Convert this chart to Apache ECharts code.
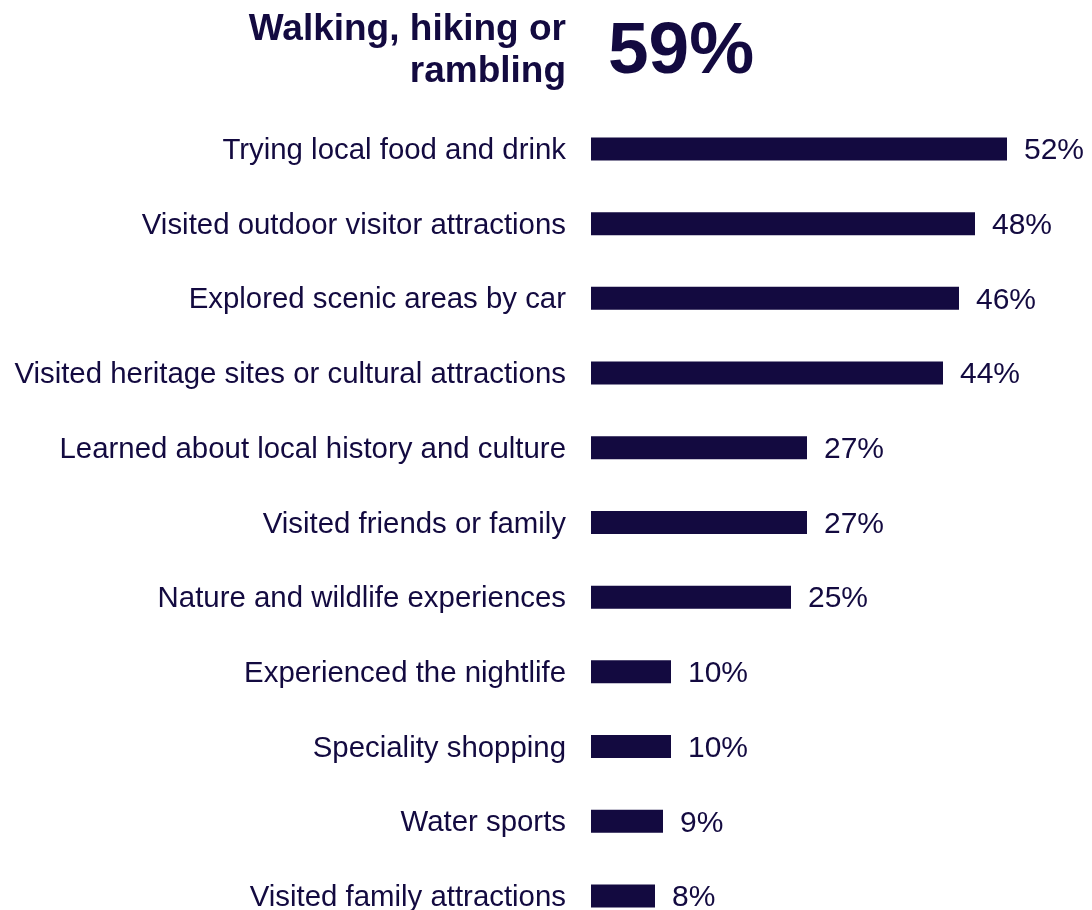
<!DOCTYPE html>
<html>
<head>
<meta charset="utf-8">
<style>
  html, body { margin: 0; padding: 0; background: #ffffff; }
  #chart { width: 1092px; height: 910px; }
</style>
<script src="https://cdn.jsdelivr.net/npm/echarts@6/dist/echarts.min.js"></script>
</head>
<body>
<div id="chart"></div>
<script>
// Headline activity, shown as a large statement above the bars
const headlineLines = ['Walking, hiking or', 'rambling'];
const headlineValue = 59;

// Remaining activities, top to bottom
const categories = [
  'Trying local food and drink',
  'Visited outdoor visitor attractions',
  'Explored scenic areas by car',
  'Visited heritage sites or cultural attractions',
  'Learned about local history and culture',
  'Visited friends or family',
  'Nature and wildlife experiences',
  'Experienced the nightlife',
  'Speciality shopping',
  'Water sports',
  'Visited family attractions'
];
const values = [52, 48, 46, 44, 27, 27, 25, 10, 10, 9, 8];

const INK = '#130a40';
const FONT = '"Liberation Sans", Arial, Helvetica, sans-serif';

const chart = echarts.init(document.getElementById('chart'), null, { renderer: 'canvas' });

chart.setOption({
  backgroundColor: '#ffffff',
  animation: false,
  grid: {
    left: 591, top: 111.6, width: 480, height: 821.7,
    outerBoundsMode: 'none', containLabel: false
  },
  xAxis: {
    type: 'value', min: 0, max: 60,
    show: false
  },
  yAxis: {
    type: 'category',
    data: categories,
    inverse: true,
    axisLine: { show: false },
    axisTick: { show: false },
    splitLine: { show: false },
    axisLabel: {
      margin: 25,
      formatter: v => '{c|' + v + '}',
      rich: {
        c: {
          color: INK,
          fontFamily: FONT,
          fontSize: 29.4,
          padding: [4, 0, 0, 0]
        }
      }
    }
  },
  series: [{
    type: 'bar',
    data: values,
    barWidth: 23,
    itemStyle: { color: INK },
    label: {
      show: true,
      position: 'right',
      distance: 17,
      offset: [0, 2],
      color: INK,
      fontFamily: FONT,
      fontSize: 30,
      formatter: p => p.value + '%'
    }
  }],
  graphic: [
    {
      type: 'text', x: 566, y: 30,
      style: {
        text: headlineLines[0],
        font: 'bold 37px ' + FONT,
        fill: INK, align: 'right', verticalAlign: 'middle'
      }
    },
    {
      type: 'text', x: 566, y: 72,
      style: {
        text: headlineLines[1],
        font: 'bold 37px ' + FONT,
        fill: INK, align: 'right', verticalAlign: 'middle'
      }
    },
    {
      type: 'text', x: 608, y: 53,
      style: {
        text: headlineValue + '%',
        font: 'bold 73px ' + FONT,
        fill: INK, align: 'left', verticalAlign: 'middle'
      }
    }
  ]
});
</script>
</body>
</html>
